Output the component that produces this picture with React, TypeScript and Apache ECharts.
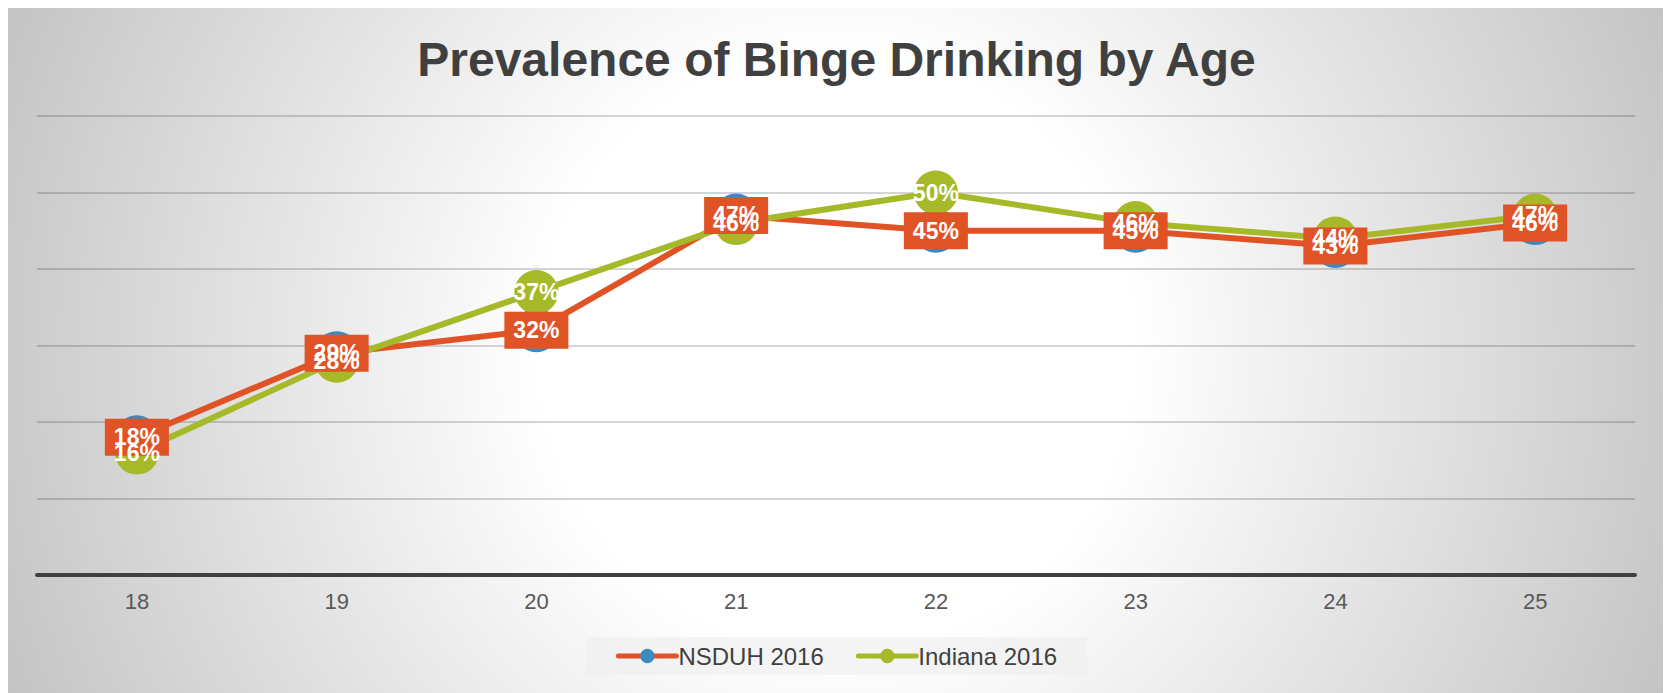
import React, { useEffect, useRef } from "react";
import * as echarts from "echarts";

const categories = ["18", "19", "20", "21", "22", "23", "24", "25"];
const nsduh2016 = [18, 29, 32, 47, 45, 45, 43, 46];
const indiana2016 = [16, 28, 37, 46, 50, 46, 44, 47];
const titleText = "Prevalence of Binge Drinking by Age";

const ORANGE = "#E05326";
const GREEN = "#A6B928";
const BLUE = "#3D8BBE";
const FONT = "'Liberation Sans', Arial, sans-serif";

export default function App() {
  const ref = useRef<HTMLDivElement>(null);
  useEffect(() => {
    document.body.style.overflow = "hidden";
    const chart = echarts.init(ref.current!, null, { renderer: "svg" });
    chart.setOption({
      animation: false,
      backgroundColor: "transparent",
      title: {
        text: titleText,
        left: "center",
        top: 22,
        textStyle: { fontFamily: FONT, fontSize: 48, fontWeight: "bold", color: "#404040" },
      },
      legend: {
        top: 629,
        left: "center",
        padding: [7, 30],
        itemGap: 32,
        itemWidth: 58,
        itemHeight: 18,
        backgroundColor: "rgba(236,236,236,0.55)",
        textStyle: { fontFamily: FONT, fontSize: 24, color: "#404040", padding: [0, 0, 0, -3] },
        lineStyle: { width: 5, cap: "round" },
        data: ["NSDUH 2016", "Indiana 2016"],
      },
      grid: { left: 29, right: 30, top: 108, bottom: 118 },
      xAxis: {
        type: "category",
        data: categories,
        boundaryGap: true,
        axisLine: { lineStyle: { color: "#404040", width: 4 } },
        axisTick: { show: false },
        axisLabel: { fontFamily: FONT, fontSize: 22, color: "#595959", margin: 15 },
      },
      yAxis: {
        type: "value",
        min: 0,
        max: 60,
        interval: 10,
        axisLabel: { show: false },
        axisLine: { show: false },
        axisTick: { show: false },
        splitLine: { lineStyle: { color: "rgba(0,0,0,0.22)", width: 1.5 } },
      },
      series: [
        {
          name: "NSDUH 2016",
          type: "line",
          data: nsduh2016,
          symbol: "circle",
          symbolSize: 44,
          lineStyle: { color: ORANGE, width: 6 },
          itemStyle: { color: BLUE },
          label: {
            show: true,
            position: "inside",
            formatter: "{c}%",
            fontFamily: FONT,
            fontSize: 23,
            fontWeight: "bold",
            color: "#ffffff",
            backgroundColor: ORANGE,
            padding: [7, 9],
          },
        },
        {
          name: "Indiana 2016",
          type: "line",
          data: indiana2016,
          symbol: "circle",
          symbolSize: 44,
          lineStyle: { color: GREEN, width: 6 },
          itemStyle: { color: GREEN },
          label: {
            show: true,
            position: "inside",
            formatter: "{c}%",
            fontFamily: FONT,
            fontSize: 23,
            fontWeight: "bold",
            color: "#ffffff",
          },
        },
      ],
    });
    return () => chart.dispose();
  }, []);
  return (
    <div
      ref={ref}
      style={{
        width: 1657,
        height: 685,
        background:
          "radial-gradient(circle farthest-corner at 50% 50%, #ffffff 0%, #ffffff 33%, #c4c4c4 100%)",
      }}
    />
  );
}
